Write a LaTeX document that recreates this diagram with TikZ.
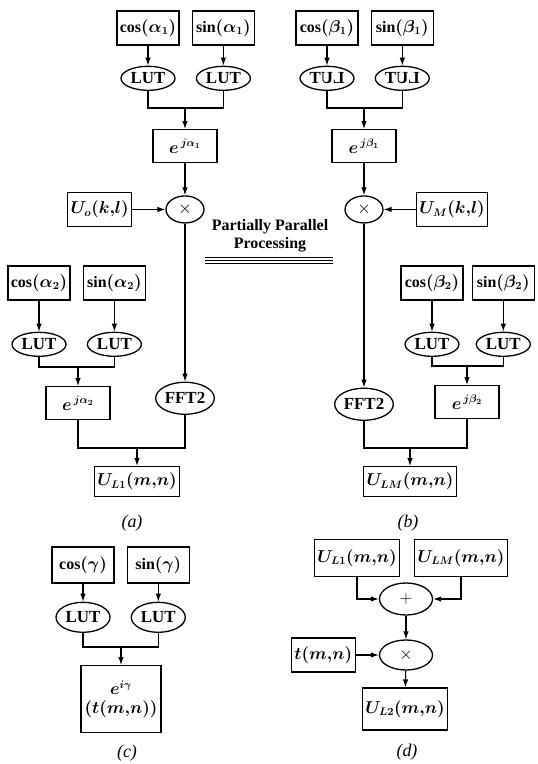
\documentclass[tikz,border=0pt]{standalone}
\usepackage{fontspec}
\setmainfont{Liberation Serif}
\usepackage{graphicx}
\usepackage{tikz}
\usetikzlibrary{shapes,arrows.meta,positioning,calc}

\begin{document}
\begin{tikzpicture}[
  x=1bp,y=1bp,
  node distance=20bp and 12bp,
  box/.style={draw,line width=1.3bp,minimum width=62bp,minimum height=34bp,
    inner sep=3bp,align=center,font=\fontsize{16}{19}\selectfont\bfseries\boldmath},
  ebox/.style={box,minimum width=64bp,minimum height=33bp},
  lut/.style={draw,ellipse,line width=1.3bp,minimum width=54bp,minimum height=24bp,
    inner sep=0.5bp,font=\fontsize{17}{19}\selectfont\bfseries},
  mul/.style={draw,ellipse,line width=1.3bp,minimum width=38bp,minimum height=27bp,
    inner sep=0pt,font=\fontsize{17}{19}\selectfont},
  line/.style={line width=1.1bp},
  arrow/.style={-{Latex[length=8bp,width=5.5bp]},line width=1.1bp},
  lbl/.style={font=\fontsize{18}{20}\selectfont\itshape},
]
\useasboundingbox (0,0) rectangle (538,-764);

% (a)
\node[box] (cosa1) at (148,-28) {$\cos(\alpha_1)$};
\node[box,right=of cosa1] (sina1) {$\sin(\alpha_1)$};
\node[lut,below=of cosa1] (lutca1) {LUT};
\node[lut,below=of sina1] (lutsa1) {LUT};
\coordinate (ja1) at (185,-108);
\node[ebox,below=21bp of ja1] (expa1) {$e^{\,j\alpha_1}$};
\node[mul,below=32bp of expa1] (mula) {$\times$};
\node[box,left=33bp of mula] (uo) {$U_o(k{,}l)$};
\node[lut,minimum height=32bp,below=158bp of mula] (ffta) {FFT2};

\node[box] (cosa2) at (39,-283) {$\cos(\alpha_2)$};
\node[box,right=of cosa2] (sina2) {$\sin(\alpha_2)$};
\node[lut,below=31bp of cosa2] (lutca2) {LUT};
\node[lut,below=31bp of sina2] (lutsa2) {LUT};
\coordinate (ja2) at (78,-367);
\node[ebox,below=19bp of ja2] (expa2) {$e^{\,j\alpha_2}$};
\coordinate (ka) at (137,-448);
\node[box,minimum height=30bp,below=18bp of ka] (ul1) {$U_{L1}(m{,}n)$};
\node[lbl] (capa) at (132,-523) {(a)};

\draw[arrow] (cosa1) -- (lutca1);
\draw[arrow] (sina1) -- (lutsa1);
\draw[line] (lutca1) |- (ja1) -| (lutsa1);
\draw[arrow] (ja1) -- (expa1);
\draw[arrow] (expa1) -- (mula);
\draw[arrow] (uo) -- (mula);
\draw[arrow] (mula) -- (ffta);
\draw[arrow] (cosa2) -- (lutca2);
\draw[arrow] (sina2) -- (lutsa2);
\draw[line] (lutca2) |- (ja2) -| (lutsa2);
\draw[arrow] (ja2) -- (expa2);
\draw[line] (expa2) |- (ka) -| (ffta);
\draw[arrow] (ka) -- (ul1);

% middle
\node[font=\fontsize{16}{18}\selectfont\bfseries,align=center,inner sep=1bp]
  (ppp) at (270,-236) {Partially Parallel\\Processing};
\foreach \d in {257,260,263}
  \draw[line width=0.9bp] (205,-\d) -- (333,-\d);

% (b)
\node[box] (cosb1) at (327,-28) {$\cos(\beta_1)$};
\node[box,right=of cosb1] (sinb1) {$\sin(\beta_1)$};
\node[lut,below=of cosb1] (lutcb1) {\reflectbox{LUT}};
\node[lut,below=of sinb1] (lutsb1) {\reflectbox{LUT}};
\coordinate (jb1) at (364,-108);
\node[ebox,below=21bp of jb1] (expb1) {$e^{\,j\beta_1}$};
\node[mul,below=32bp of expb1] (mulb) {$\times$};
\node[box,minimum width=57bp,right=32bp of mulb] (um) {$U_M(k{,}l)$};
\node[lut,minimum height=32bp,below=164bp of mulb] (fftb) {FFT2};

\node[box] (cosb2) at (432,-283) {$\cos(\beta_2)$};
\node[box,right=8bp of cosb2] (sinb2) {$\sin(\beta_2)$};
\node[lut,below=31bp of cosb2] (lutcb2) {LUT};
\node[lut,below=31bp of sinb2] (lutsb2) {LUT};
\coordinate (jb2) at (467,-366);
\node[ebox,below=19bp of jb2] (expb2) {$e^{\,j\beta_2}$};
\coordinate (kb) at (410,-448);
\node[box,minimum height=30bp,below=18bp of kb] (ulm) {$U_{LM}(m{,}n)$};
\node[lbl] (capb) at (408,-523) {(b)};

\draw[arrow] (cosb1) -- (lutcb1);
\draw[arrow] (sinb1) -- (lutsb1);
\draw[line] (lutcb1) |- (jb1) -| (lutsb1);
\draw[arrow] (jb1) -- (expb1);
\draw[arrow] (expb1) -- (mulb);
\draw[arrow] (um) -- (mulb);
\draw[arrow] (mulb) -- (fftb);
\draw[arrow] (cosb2) -- (lutcb2);
\draw[arrow] (sinb2) -- (lutsb2);
\draw[line] (lutcb2) |- (jb2) -| (lutsb2);
\draw[arrow] (jb2) -- (expb2);
\draw[line] (fftb) |- (kb) -| (expb2);
\draw[arrow] (kb) -- (ulm);

% (c)
\node[box,minimum height=36bp] (cosg) at (83,-565) {$\cos(\gamma)$};
\node[box,minimum height=36bp,right=of cosg] (sing) {$\sin(\gamma)$};
\node[lut,minimum height=30bp,below=18bp of cosg] (lutcg) {LUT};
\node[lut,minimum height=30bp,below=18bp of sing] (lutsg) {LUT};
\coordinate (jg) at (121,-647);
\node[box,minimum width=80bp,minimum height=67bp,below=18bp of jg] (expg)
  {$e^{i\gamma}$\\$(t(m{,}n))$};
\node[lbl] (capc) at (127,-753) {(c)};

\draw[arrow] (cosg) -- (lutcg);
\draw[arrow] (sing) -- (lutsg);
\draw[line] (lutcg) |- (jg) -| (lutsg);
\draw[arrow] (jg) -- (expg);

% (d)
\node[box,minimum width=75bp,minimum height=37bp] (sl1) at (357,-558) {$U_{L1}(m{,}n)$};
\node[box,minimum width=80bp,minimum height=37bp] (slm) at (461,-558) {$U_{LM}(m{,}n)$};
\node[mul,minimum width=53bp,minimum height=32bp] (plus) at (406,-599) {$+$};
\node[mul,minimum width=53bp,minimum height=30bp] (muld) at (406,-655) {$\times$};
\node[box,minimum width=59bp,left=23bp of muld] (tmn) {$t(m{,}n)$};
\node[box,minimum width=75bp,minimum height=42bp] (ul2) at (405,-709) {$U_{L2}(m{,}n)$};
\node[lbl] (capd) at (407,-752) {(d)};

\draw[arrow] (sl1) |- (plus);
\draw[arrow] (slm) |- (plus);
\draw[arrow] (plus) -- (muld);
\draw[arrow] (tmn) -- (muld);
\draw[arrow] (muld) -- (ul2);
\end{tikzpicture}
\end{document}
